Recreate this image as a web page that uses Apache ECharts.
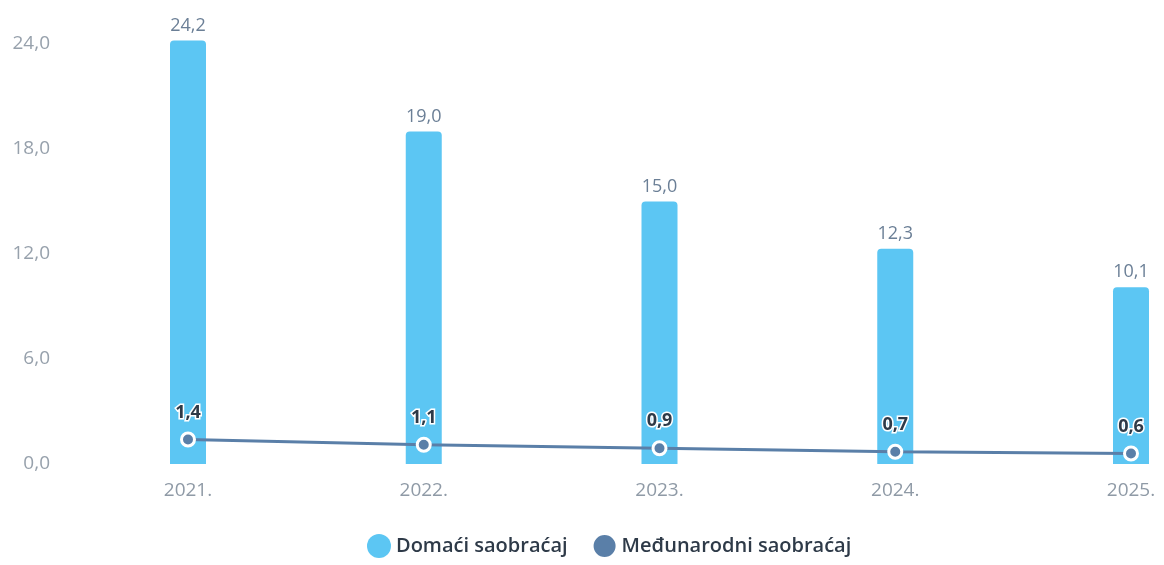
<!DOCTYPE html>
<html>
<head>
<meta charset="utf-8">
<script src="https://cdn.jsdelivr.net/npm/echarts@6/dist/echarts.min.js"></script>
<style>
  html, body { margin: 0; padding: 0; background: #fff; }
  #chart { width: 1164px; height: 565px; }
</style>
</head>
<body>
<div id="chart"></div>
<script>
// DATA
const years = ["2021.", "2022.", "2023.", "2024.", "2025."];
const domestic = [24.2, 19.0, 15.0, 12.3, 10.1];
const international = [1.4, 1.1, 0.9, 0.7, 0.6];
const seriesNames = ["Domaći saobraćaj", "Međunarodni saobraćaj"];

const fmt = (v) => Number(v).toFixed(1).replace(".", ",");

let chart = echarts.init(document.getElementById("chart"));

let option = {
  textStyle: { fontFamily: "Open Sans" },
  grid: {
    left: 188,
    right: 33,
    top: 44,
    bottom: 101,
  },
  legend: {
    left: 362,
    bottom: 1,
    itemWidth: 24,
    itemHeight: 24,
    itemGap: 24,
    icon: "circle",
    textStyle: { fontSize: 20, color: "#2e3a48", fontWeight: 600 },
    data: seriesNames,
  },
  xAxis: {
    type: "category",
    boundaryGap: false,
    data: years,
    axisLine: { show: false },
    axisTick: { show: false },
    axisLabel: { fontSize: 19, color: "#8f9aa6", margin: 17 },
  },
  yAxis: {
    type: "value",
    min: 0,
    max: 24,
    interval: 6,
    splitLine: { show: false },
    axisLabel: {
      fontSize: 19,
      color: "#97a1ac",
      margin: 138,
      formatter: fmt,
    },
  },
  series: [
    {
      name: seriesNames[0],
      type: "bar",
      data: domestic,
      barWidth: 36,
      clip: false,
      itemStyle: { color: "#5cc6f3", borderRadius: [4, 4, 0, 0] },
      label: {
        show: true,
        position: "top",
        distance: 6,
        fontSize: 18,
        color: "#6b7f96",
        formatter: (p) => fmt(p.value),
      },
    },
    {
      name: seriesNames[1],
      type: "line",
      data: international,
      z: 5,
      symbol: "circle",
      symbolSize: 13,
      lineStyle: { color: "#5a7fa8", width: 3 },
      itemStyle: { color: "#5a7fa8", borderColor: "#fff", borderWidth: 3 },
      label: {
        show: true,
        position: "top",
        distance: 10,
        fontSize: 18,
        fontWeight: "bold",
        color: "#2e3a48",
        textBorderColor: "#fff",
        textBorderWidth: 3,
        formatter: (p) => fmt(p.value),
      },
    },
  ],
};

chart.setOption(option);
</script>
</body>
</html>
